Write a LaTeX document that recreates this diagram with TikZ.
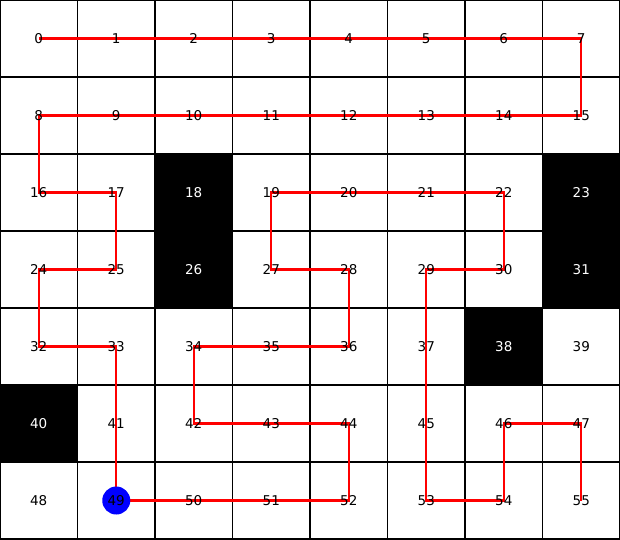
\documentclass[tikz,border=0pt]{standalone}
\usepackage{fontspec}
\setmainfont{DejaVu Sans}
\begin{document}
\begin{tikzpicture}[x=77.5pt,y=-77pt,
  gridline/.style={line width=1.5pt,black},
  route/.style={line width=2.2pt,red,line join=miter},
  celltext/.style={font=\fontsize{13.5}{14}\selectfont,inner sep=0pt},
  blocked/.style={fill=black}]
\useasboundingbox (0,0) rectangle (8,7);
\fill[white] (0,0) rectangle (8,7);
% coordinates of cell centres
\foreach \n in {0,...,55}{
  \pgfmathtruncatemacro{\cx}{mod(\n,8)}
  \pgfmathtruncatemacro{\cy}{int(\n/8)}
  \coordinate (p\n) at (\cx+0.5,\cy+0.5);
}
% blocked cells
\foreach \n in {18,23,26,31,38,40}{
  \pgfmathtruncatemacro{\cx}{mod(\n,8)}
  \pgfmathtruncatemacro{\cy}{int(\n/8)}
  \fill[blocked] (\cx,\cy) rectangle (\cx+1,\cy+1);
}
% grid
\foreach \i in {0,...,8} \draw[gridline] (\i,0) -- (\i,7);
\foreach \j in {0,...,7} \draw[gridline] (0,\j) -- (8,\j);
% route
\draw[route] (p0) -- (p7) -- (p15) -- (p8) -- (p16) -- (p17) -- (p25) -- (p24) -- (p32) -- (p33) -- (p49) -- (p52) -- (p44) -- (p42) -- (p34) -- (p36) -- (p28) -- (p27) -- (p19) -- (p22) -- (p30) -- (p29) -- (p53) -- (p54) -- (p46) -- (p47) -- (p55);
% start marker
\fill[blue] (p49) circle (14pt);
% labels
\foreach \n in {0,...,55}{
  \node[celltext] (t\n) at (p\n) {\n};
}
\foreach \n in {18,23,26,31,38,40}{
  \node[celltext,text=white] at (p\n) {\n};
}
\end{tikzpicture}
\end{document}
